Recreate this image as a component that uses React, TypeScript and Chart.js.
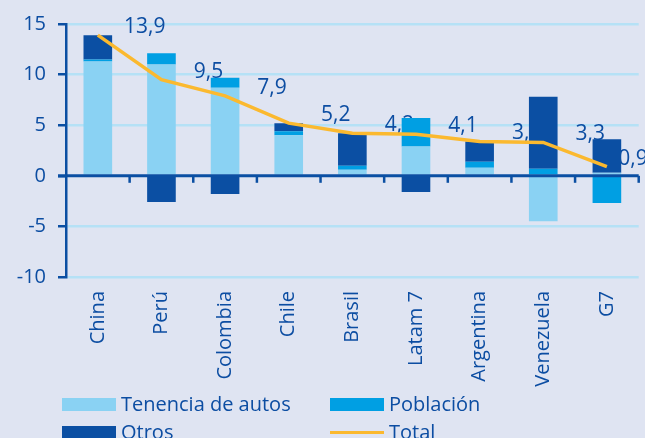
import React, { useEffect, useRef } from 'react';
import { Chart, registerables } from 'chart.js';

Chart.register(...registerables);

const categories = ['China', 'Perú', 'Colombia', 'Chile', 'Brasil', 'Latam 7', 'Argentina', 'Venezuela', 'G7'];
const tenencia = [11.3, 11.0, 8.7, 4.0, 0.6, 2.9, 0.8, -4.5, 0.3];
const poblacion = [0.2, 1.1, 1.0, 0.4, 0.4, 2.8, 0.6, 0.7, -2.7];
const otros = [2.4, -2.6, -1.8, 0.8, 3.2, -1.6, 2.0, 7.1, 3.3];
const total = [13.9, 9.5, 7.9, 5.2, 4.2, 4.1, 3.4, 3.3, 0.9];
const seriesNames = ['Tenencia de autos', 'Población', 'Otros', 'Total'];
const yMin = -10;
const yMax = 15;
const yStep = 5;

const BG = '#DFE4F2';
const LIGHT = '#8AD2F3';
const MID = '#009FE3';
const DARK = '#0B4FA3';
const LINE = '#FBB92F';
const GRID = '#B5E1F6';
const TEXT = '#0C4DA2';
const FONT = '"Open Sans", "DejaVu Sans", sans-serif';

const fmt = (v: number) => v.toFixed(1).replace('.', ',');

export default function App() {
  const ref = useRef<HTMLCanvasElement>(null);

  useEffect(() => {
    const canvas = ref.current;
    if (!canvas) return;

    const zeroAxis = {
      id: 'zeroAxis',
      beforeDatasetDraw(chart: any, args: any) {
        if (args.index !== 3) return;
        const { ctx, chartArea, scales } = chart;
        const y0 = scales.y.getPixelForValue(0);
        ctx.save();
        ctx.strokeStyle = DARK;
        ctx.lineWidth = 3;
        ctx.beginPath();
        ctx.moveTo(chartArea.left - 8, y0);
        ctx.lineTo(chartArea.right, y0);
        ctx.stroke();
        const xs = scales.x;
        const n = categories.length;
        const w = xs.getPixelForValue(1) - xs.getPixelForValue(0);
        ctx.lineWidth = 2.5;
        for (let i = 0; i < n; i++) {
          const bx = xs.getPixelForValue(i) + w / 2;
          ctx.beginPath();
          ctx.moveTo(bx, y0);
          ctx.lineTo(bx, y0 + 7);
          ctx.stroke();
        }
        ctx.restore();
      },
    };

    const valueLabels = {
      id: 'valueLabels',
      beforeDatasetsDraw(chart: any) {
        const { ctx } = chart;
        const meta = chart.getDatasetMeta(3);
        ctx.save();
        ctx.font = `21px ${FONT}`;
        ctx.fillStyle = TEXT;
        ctx.textAlign = 'center';
        ctx.textBaseline = 'middle';
        meta.data.forEach((pt: any, i: number) => {
          const x = Math.min(pt.x + 47, chart.width - 12);
          ctx.fillText(fmt(total[i]), x, pt.y - 8);
        });
        ctx.restore();
      },
    };

    const legendGrid = {
      id: 'legendGrid',
      afterDraw(chart: any) {
        const { ctx, chartArea } = chart;
        const colors = [LIGHT, MID, DARK, LINE];
        ctx.save();
        ctx.font = `20px ${FONT}`;
        ctx.textBaseline = 'middle';
        ctx.textAlign = 'left';
        seriesNames.forEach((name, i) => {
          const col = i % 2;
          const row = Math.floor(i / 2);
          const x = chartArea.left - 4 + col * 268;
          const y = chart.height - 40 + row * 28;
          if (i === 3) {
            ctx.fillStyle = colors[i];
            ctx.fillRect(x, y + 5, 54, 3);
          } else {
            ctx.fillStyle = colors[i];
            ctx.fillRect(x, y, 54, 13);
          }
          ctx.fillStyle = TEXT;
          ctx.fillText(name, x + 59, y + 7);
        });
        ctx.restore();
      },
    };

    const chart = new Chart(canvas, {
      type: 'bar',
      data: {
        labels: categories,
        datasets: [
          { label: seriesNames[0], data: tenencia, backgroundColor: LIGHT, order: 1, stack: 's' },
          { label: seriesNames[1], data: poblacion, backgroundColor: MID, order: 1, stack: 's' },
          { label: seriesNames[2], data: otros, backgroundColor: DARK, order: 1, stack: 's' },
          {
            type: 'line',
            label: seriesNames[3],
            data: total,
            borderColor: LINE,
            backgroundColor: LINE,
            borderWidth: 3.5,
            pointRadius: 0,
            tension: 0,
            order: 0,
          } as any,
        ],
      },
      options: {
        animation: false,
        responsive: false,
        maintainAspectRatio: false,
        layout: { padding: { top: 24, right: 2, bottom: 45, left: 0 } },
        datasets: { bar: { categoryPercentage: 0.9, barPercentage: 0.5 } },
        plugins: { legend: { display: false }, tooltip: { enabled: false } },
        scales: {
          x: {
            stacked: true,
            grid: { display: false, drawTicks: false },
            border: { display: false },
            ticks: {
              minRotation: 90,
              maxRotation: 90,
              padding: 14,
              color: TEXT,
              font: { family: FONT, size: 20 },
            },
            afterFit: (s: any) => { s.height = 116; },
          },
          y: {
            stacked: true,
            min: yMin,
            max: yMax,
            ticks: {
              stepSize: yStep,
              padding: 12,
              color: TEXT,
              font: { family: FONT, size: 20 },
            },
            grid: {
              color: (c: any) => (c.tick && c.tick.value === 0 ? 'rgba(0,0,0,0)' : GRID),
              lineWidth: 2.5,
              tickColor: DARK,
              tickLength: 8,
            },
            border: { color: DARK, width: 2.5 },
            afterFit: (s: any) => { s.width = 66; },
          },
        },
      },
      plugins: [zeroAxis, valueLabels, legendGrid],
    });

    return () => chart.destroy();
  }, []);

  return (
    <div style={{ position: 'absolute', left: 0, top: 0, width: 645, height: 438, background: BG }}>
      <canvas ref={ref} width={645} height={438} style={{ display: 'block' }} />
    </div>
  );
}
